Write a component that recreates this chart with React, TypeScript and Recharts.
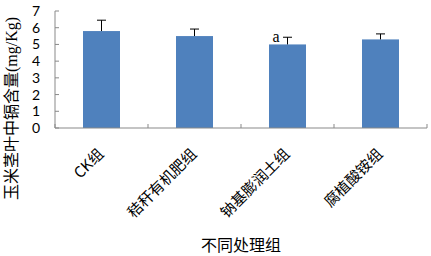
import { BarChart, Bar, XAxis, YAxis } from 'recharts'

const categories = ['CK组', '秸秆有机肥组', '钠基膨润土组', '腐植酸铵组']
const means = [5.8, 5.5, 5.0, 5.3]
const errors = [0.65, 0.42, 0.43, 0.33]
const marks = ['', '', 'a', '']
const yTicks = [0, 1, 2, 3, 4, 5, 6, 7]

const data = categories.map((name, i) => ({ name, mean: means[i], err: errors[i], mark: marks[i] }))

const axisGray = '#898989'
const barBlue = '#4F81BD'
const cjk = '"Noto Sans CJK SC", sans-serif'

function BarWithError(props: any) {
  const { x, y, width, height, payload } = props
  const perUnit = height / payload.mean
  const errTop = y - payload.err * perUnit
  const cx = x + width / 2
  return (
    <g>
      <rect x={x} y={y} width={width} height={height} fill={barBlue} />
      <line x1={cx} y1={y} x2={cx} y2={errTop} stroke="#000" strokeWidth={1} />
      <line x1={cx - 4.5} y1={errTop} x2={cx + 4.5} y2={errTop} stroke="#000" strokeWidth={1} />
      {payload.mark ? (
        <text x={cx - 8} y={y - 2} textAnchor="end" fontSize={16} fontFamily='"Liberation Serif", serif' fill="#000">
          {payload.mark}
        </text>
      ) : null}
    </g>
  )
}

function XTick(props: any) {
  const { x, y, payload, index } = props
  const off = payload.offset || 0
  const px = x + 3
  const py = y + 27
  return (
    <g>
      <line x1={x - off} y1={y} x2={x - off} y2={y - 4} stroke={axisGray} />
      {index === categories.length - 1 ? (
        <line x1={x + off} y1={y} x2={x + off} y2={y - 4} stroke={axisGray} />
      ) : null}
      <text x={px} y={py} transform={`rotate(-45, ${px}, ${py})`} textAnchor="end" fontSize={15} fontFamily={cjk} fill="#000">
        {payload.value}
      </text>
    </g>
  )
}

function YTitle(props: any) {
  const { viewBox } = props
  const x = viewBox.x + 11
  const y = viewBox.y + viewBox.height / 2 + 39
  return (
    <text x={x} y={y} transform={`rotate(-90, ${x}, ${y})`} textAnchor="middle" dominantBaseline="central" fontSize={16} fontFamily={'"Liberation Serif", "Noto Sans CJK SC", serif'} fill="#000">
      玉米茎叶中镉含量(mg/Kg)
    </text>
  )
}

function XTitle(props: any) {
  const { viewBox } = props
  return (
    <text x={viewBox.x + viewBox.width / 2} y={251} textAnchor="middle" fontSize={16} fontFamily={cjk} fill="#000">
      不同处理组
    </text>
  )
}

export default function App() {
  return (
    <div style={{ position: 'absolute', left: 0, top: 0, background: '#fff' }}>
      <BarChart width={431} height={256} data={data} margin={{ top: 11, right: 4, left: 0, bottom: 0 }}>
        <XAxis
          dataKey="name"
          height={128}
          axisLine={{ stroke: axisGray }}
          tickLine={false}
          tickSize={0}
          tickMargin={0}
          interval={0}
          tick={<XTick />}
          label={<XTitle />}
        />
        <YAxis
          width={55}
          domain={[0, 7]}
          ticks={yTicks}
          interval={0}
          axisLine={{ stroke: axisGray }}
          tickLine={{ stroke: axisGray }}
          tickSize={-4}
          tickMargin={19}
          tick={{ fontSize: 14, fill: '#000', fontFamily: 'Lato, sans-serif' }}
          label={<YTitle />}
        />
        <Bar dataKey="mean" barSize={37} shape={<BarWithError />} isAnimationActive={false} />
      </BarChart>
    </div>
  )
}
